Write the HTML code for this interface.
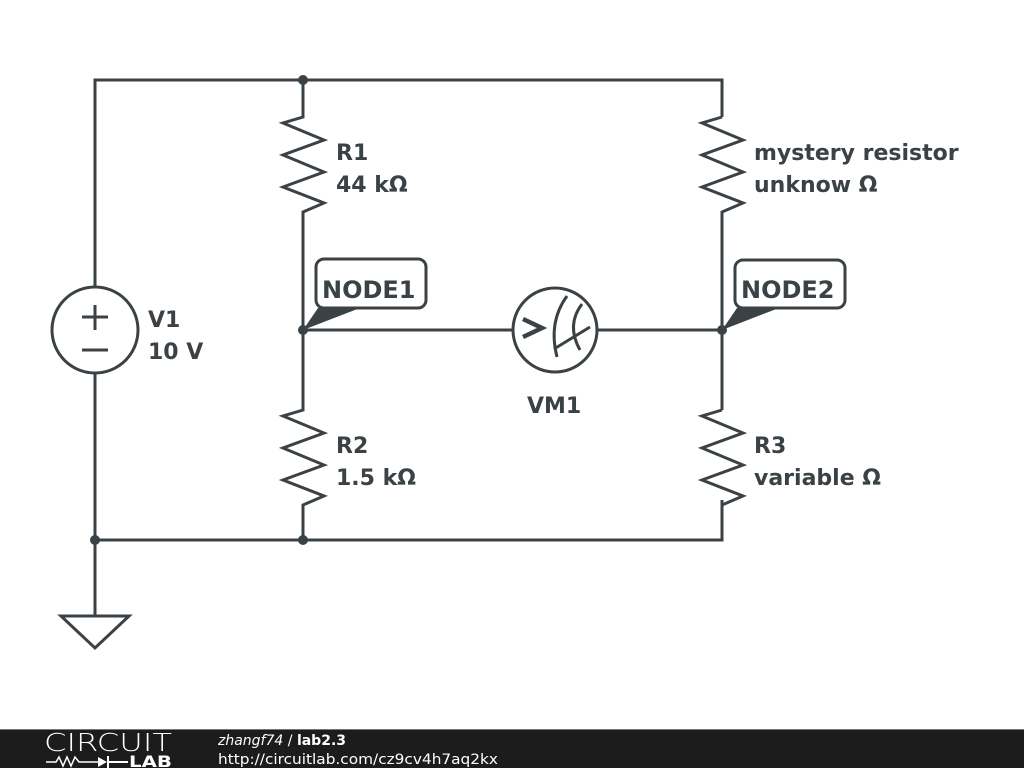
<!DOCTYPE html>
<html><head><meta charset="utf-8"><style>
html,body{margin:0;padding:0;background:#fff;}
svg{display:block}
text{font-family:"DejaVu Sans","Liberation Sans",sans-serif;}
</style></head><body>
<svg width="1024" height="768" viewBox="0 0 1024 768" xmlns="http://www.w3.org/2000/svg">
<g stroke="#3b4246" stroke-width="3" fill="none">
  <polyline points="95,287 95,80 722,80 722,117"/>
  <line x1="95" y1="373" x2="95" y2="616"/>
  <polyline points="95,540 722,540 722,500"/>
  <polygon points="61,616 129,616 95,648"/>
  <circle cx="95" cy="330" r="43"/>
  <line x1="95" y1="305" x2="95" y2="330"/>
  <line x1="82" y1="317" x2="108" y2="317"/>
  <line x1="82" y1="350" x2="108" y2="350"/>
  <polyline points="303,80 303,117 283,123 324,140 283,155 324,172 283,187 324,203 303,212 303,410"/>
  <polyline points="303,330 303,410 283,416 324,433 283,448 324,465 283,480 324,496 303,505 303,540"/>
  <polyline points="722,117 702,123 743,140 702,155 743,172 702,187 743,203 722,212 722,410"/>
  <polyline points="722,410 702,416 743,433 702,448 743,465 702,480 743,496 722,505 722,540"/>
  <line x1="303" y1="330" x2="513" y2="330"/>
  <line x1="597" y1="330" x2="722" y2="330"/>
  <circle cx="555" cy="330" r="42"/>
  <polyline points="523,319 542,328 523,337" stroke-width="4.5"/>
  <path d="M567,296 Q548,322 557,357"/>
  <path d="M582,304 Q566,325 580,350"/>
  <line x1="554" y1="349" x2="590" y2="327"/>
  <rect x="316" y="259" width="110" height="49" rx="8" fill="#fff"/>
  <rect x="735" y="260" width="110" height="48" rx="8" fill="#fff"/>
</g>
<g fill="#3b4246">
  <circle cx="303" cy="80" r="5"/>
  <circle cx="95" cy="540" r="5"/>
  <circle cx="303" cy="540" r="5"/>
  <circle cx="303" cy="330" r="5"/>
  <circle cx="722" cy="330" r="5"/>
  <polygon points="303,330 318,308 360,308"/>
  <polygon points="722,330 737,308 779,308"/>
</g>
<g fill="#3b4246" font-weight="bold" font-size="22">
  <text x="322" y="298" font-size="24">NODE1</text>
  <text x="741" y="298" font-size="24">NODE2</text>
  <text x="336" y="160">R1</text>
  <text x="336" y="192">44 kΩ</text>
  <text x="336" y="453">R2</text>
  <text x="336" y="485">1.5 kΩ</text>
  <text x="754" y="160">mystery resistor</text>
  <text x="754" y="192">unknow Ω</text>
  <text x="754" y="453">R3</text>
  <text x="754" y="485">variable Ω</text>
  <text x="148" y="327">V1</text>
  <text x="148" y="359">10 V</text>
  <text x="527" y="413">VM1</text>
</g>
<rect x="0" y="729" width="1024" height="39" fill="#1c1c1c"/>
<line x1="0" y1="729.5" x2="1024" y2="729.5" stroke="#777" stroke-width="1"/>
<text x="44" y="751" fill="#fff" font-size="25" textLength="128" lengthAdjust="spacingAndGlyphs" style="font-family:'DejaVu Sans ExtraLight','DejaVu Sans',sans-serif;font-weight:200">CIRCUIT</text>
<polyline points="46,762 56,762 59,757 63,766 67,757 71,766 75,757 79,762 98,762" stroke="#fff" stroke-width="1.5" fill="none"/>
<polygon points="98,757 98,767 107,762" fill="#fff"/>
<line x1="108" y1="756" x2="108" y2="768" stroke="#fff" stroke-width="2"/>
<line x1="108" y1="762" x2="128" y2="762" stroke="#fff" stroke-width="2"/>
<text x="129" y="767" fill="#fff" font-size="16" font-weight="bold" textLength="43" lengthAdjust="spacingAndGlyphs">LAB</text>
<text x="218" y="745" fill="#fff" font-size="14"><tspan font-style="italic">zhangf74</tspan> / <tspan font-weight="bold">lab2.3</tspan></text>
<text x="218" y="764" fill="#fff" font-size="14" textLength="280" lengthAdjust="spacingAndGlyphs">http://circuitlab.com/cz9cv4h7aq2kx</text>
</svg>
</body></html>
